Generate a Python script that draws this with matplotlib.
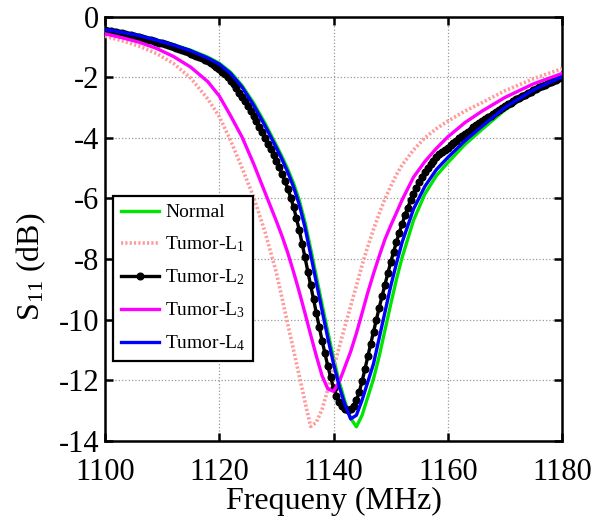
import matplotlib
matplotlib.use('Agg')
import matplotlib.pyplot as plt
import numpy as np

plt.rcParams['font.family'] = ['Liberation Serif', 'DejaVu Serif']
plt.rcParams['mathtext.fontset'] = 'custom'
plt.rcParams['mathtext.rm'] = 'Liberation Serif'
plt.rcParams['mathtext.it'] = 'Liberation Serif:italic'
plt.rcParams['axes.unicode_minus'] = False

# Shared frequency grid (MHz) for the smooth curves
freq = [1100, 1103, 1106, 1109, 1112, 1115, 1118, 1120, 1122, 1124, 1126, 1128,
        1130, 1131, 1132, 1133, 1134, 1135, 1136, 1137, 1138, 1139, 1140, 1141,
        1142, 1143, 1144, 1145, 1146, 1147, 1148, 1149, 1150, 1151, 1152,
        1154, 1156, 1158, 1160, 1163, 1166, 1170, 1175, 1180]

normal = [-0.42, -0.51, -0.62, -0.77, -0.93, -1.11, -1.34, -1.54, -1.84, -2.28, -2.85, -3.52,
          -4.25, -4.63, -5.04, -5.50, -6.06, -6.78, -7.66, -8.58, -9.50, -10.40, -11.27, -12.05,
          -12.70, -13.25, -13.53, -13.15, -12.55, -11.95, -11.20, -10.35, -9.50, -8.68, -7.95,
          -6.72, -5.85, -5.25, -4.82, -4.22, -3.72, -3.08, -2.48, -2.02]

tumor_l1 = [-0.65, -0.80, -0.98, -1.22, -1.55, -2.03, -2.72, -3.30, -4.10, -5.00, -5.95, -7.10,
            -8.45, -9.30, -10.15, -11.00, -11.85, -12.70, -13.52, -13.38, -12.95, -12.30, -11.60, -10.90,
            -10.22, -9.55, -8.88, -8.20, -7.58, -7.02, -6.50, -6.02, -5.60, -5.22, -4.90,
            -4.40, -4.00, -3.70, -3.45, -3.12, -2.84, -2.45, -2.05, -1.72]

tumor_l3 = [-0.57, -0.70, -0.85, -1.05, -1.32, -1.67, -2.15, -2.62, -3.28, -3.98, -4.85, -5.80,
            -6.75, -7.25, -7.80, -8.42, -9.08, -9.78, -10.50, -11.20, -11.85, -12.28, -12.36, -12.05,
            -11.55, -11.05, -10.45, -9.78, -9.10, -8.48, -7.90, -7.35, -6.90, -6.48, -6.05,
            -5.30, -4.78, -4.35, -3.97, -3.50, -3.12, -2.67, -2.22, -1.88]

tumor_l4 = [-0.43, -0.52, -0.63, -0.78, -0.94, -1.13, -1.37, -1.57, -1.88, -2.33, -2.92, -3.60,
            -4.33, -4.72, -5.14, -5.62, -6.20, -6.95, -7.85, -8.78, -9.70, -10.60, -11.45, -12.20,
            -12.80, -13.27, -13.15, -12.65, -12.05, -11.45, -10.60, -9.75, -8.90, -8.15, -7.45,
            -6.35, -5.60, -5.05, -4.65, -4.10, -3.62, -3.00, -2.42, -1.99]

# Tumor-L2 is sampled every 0.5 MHz (marker curve)
freq_l2 = np.linspace(1100, 1180, 161)
tumor_l2 = [-0.46, -0.48, -0.49, -0.51, -0.52, -0.54, -0.56, -0.58, -0.60, -0.62,
            -0.64, -0.66, -0.69, -0.71, -0.74, -0.76, -0.79, -0.81, -0.84, -0.87,
            -0.89, -0.92, -0.95, -0.98, -1.01, -1.04, -1.07, -1.11, -1.14, -1.18,
            -1.22, -1.26, -1.30, -1.34, -1.38, -1.43, -1.48, -1.53, -1.59, -1.66,
            -1.74, -1.82, -1.90, -2.01, -2.13, -2.24, -2.36, -2.51, -2.65, -2.80,
            -2.95, -3.12, -3.29, -3.46, -3.64, -3.82, -4.00, -4.19, -4.37, -4.56,
            -4.76, -4.97, -5.19, -5.43, -5.68, -5.97, -6.28, -6.65, -7.04, -7.49,
            -7.94, -8.41, -8.87, -9.33, -9.79, -10.24, -10.69, -11.11, -11.53, -11.90,
            -12.24, -12.50, -12.70, -12.85, -12.94, -12.98, -12.95, -12.86, -12.66, -12.38,
            -12.03, -11.63, -11.21, -10.80, -10.40, -10.00, -9.60, -9.22, -8.84, -8.47,
            -8.11, -7.77, -7.44, -7.13, -6.84, -6.56, -6.30, -6.06, -5.84, -5.64,
            -5.46, -5.29, -5.14, -5.00, -4.87, -4.75, -4.64, -4.55, -4.47, -4.40,
            -4.33, -4.25, -4.17, -4.09, -4.01, -3.94, -3.87, -3.80, -3.73, -3.66,
            -3.59, -3.52, -3.46, -3.39, -3.33, -3.27, -3.20, -3.14, -3.08, -3.02,
            -2.96, -2.90, -2.84, -2.79, -2.73, -2.68, -2.63, -2.58, -2.53, -2.48,
            -2.43, -2.38, -2.34, -2.29, -2.25, -2.20, -2.16, -2.12, -2.08, -2.04,
            -2.00]

xticks = [1100, 1120, 1140, 1160, 1180]
yticks = [-14, -12, -10, -8, -6, -4, -2, 0]

fig = plt.figure(figsize=(5.96, 5.16), dpi=100)
ax = fig.add_axes([0.1762, 0.1453, 0.7668, 0.8227])

ax.plot(freq, normal, color='#00e600', lw=2.4, label='Normal', zorder=3)
ax.plot(freq, tumor_l1, color='#ff9a9a', lw=2.6, ls=(0, (0.6, 0.6)), label='Tumor-L$_1$', zorder=3)
ax.plot(freq_l2, tumor_l2, color='black', lw=2.4, marker='o', ms=4.8,
        label='Tumor-L$_2$', zorder=4)
ax.plot(freq, tumor_l3, color='#ff00ff', lw=2.4, label='Tumor-L$_3$', zorder=4)
ax.plot(freq, tumor_l4, color='#0000ff', lw=2.4, label='Tumor-L$_4$', zorder=5)

ax.set_xlim(1100, 1180)
ax.set_ylim(-14, 0)
ax.set_xticks(xticks)
ax.set_yticks(yticks)
ax.set_xticklabels([str(t) for t in xticks])
ax.set_yticklabels([str(t) for t in yticks])

ax.grid(True, ls=':', color='#999999', lw=0.9)
ax.tick_params(direction='in', length=6, width=1.8, top=True, right=True, labelsize=22)
ax.tick_params(axis='x', pad=12)
ax.tick_params(axis='y', pad=4)
for s in ax.spines.values():
    s.set_linewidth(1.8)

ax.set_xlabel('Frequeny (MHz)', fontsize=23, labelpad=0)
ax.set_ylabel('S$_{11}$ (dB)', fontsize=23)
ax.yaxis.set_label_coords(-0.125, 0.41)

leg = ax.legend(loc='upper left', bbox_to_anchor=(0.017, 0.577), borderaxespad=0,
                fontsize=14, handlelength=2.0, handletextpad=0.3, borderpad=0.4,
                labelspacing=0.68, numpoints=1, fancybox=False, framealpha=1,
                edgecolor='black')
leg.get_frame().set_linewidth(1.6)

fig.savefig('out.png', dpi=100)
